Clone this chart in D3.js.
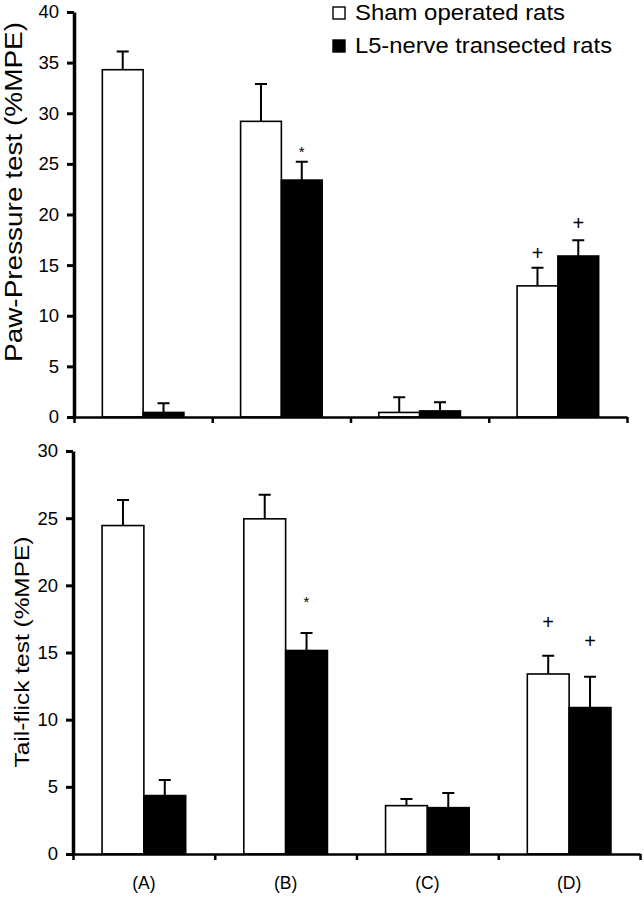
<!DOCTYPE html>
<html>
<head>
<meta charset="utf-8">
<script src="https://cdn.jsdelivr.net/npm/d3@7"></script>
<style>
  html, body { margin: 0; padding: 0; background: #fff; }
  svg { display: block; font-family: "Liberation Sans", Arial, Helvetica, sans-serif; }
</style>
</head>
<body>
<svg id="chart" width="644" height="899"></svg>
<script>
// ---------- data ----------
const groups = ["(A)", "(B)", "(C)", "(D)"];
const seriesNames = ["Sham operated rats", "L5-nerve transected rats"];

const pawSham    = [34.3, 29.2, 0.45, 12.95];
const pawShamErr = [1.8, 3.7, 1.5, 1.8];
const pawL5      = [0.45, 23.4, 0.6, 15.9];
const pawL5Err   = [0.9, 1.8, 0.85, 1.55];
const pawTicks   = [0, 5, 10, 15, 20, 25, 30, 35, 40];
// significance marks: [group index, series index, symbol, level]
const pawMarks   = [[1, 1, "*", 26.5], [3, 0, "+", 16.2], [3, 1, "+", 19.2]];

const tailSham    = [24.45, 24.95, 3.6, 13.4];
const tailShamErr = [1.9, 1.8, 0.5, 1.35];
const tailL5      = [4.35, 15.15, 3.45, 10.9];
const tailL5Err   = [1.15, 1.3, 1.1, 2.3];
const tailTicks   = [0, 5, 10, 15, 20, 25, 30];
const tailMarks   = [[1, 1, "*", 19.0], [3, 0, "+", 17.3], [3, 1, "+", 15.9]];

// ---------- drawing ----------
const svg = d3.select("#chart");

function panel(cfg) {
  const g = svg.append("g");
  const x = d3.scaleBand().domain(groups).range([cfg.x0, cfg.x1]).padding(0);
  const xs = d3.scaleBand().domain([0, 1])
      .range([x.bandwidth() * 0.205, x.bandwidth() * 0.795]).padding(0);
  const y = d3.scaleLinear().domain([0, cfg.ymax]).range([cfg.y0, cfg.y1]);

  const rows = groups.map((grp, i) => ({
    grp, i,
    vals: [
      { s: 0, v: cfg.sham[i], e: cfg.shamErr[i] },
      { s: 1, v: cfg.l5[i], e: cfg.l5Err[i] }
    ]
  }));

  const gg = g.selectAll("g.grp").data(rows).enter().append("g")
      .attr("transform", d => `translate(${x(d.grp)},0)`);

  // error bars (upward only)
  gg.selectAll("path.err").data(d => d.vals).enter().append("path")
      .attr("d", d => {
        const cx = xs(d.s) + xs.bandwidth() / 2;
        const yt = y(d.v + d.e);
        return `M${cx},${y(d.v)}V${yt}M${cx - 6},${yt}H${cx + 6}`;
      })
      .attr("stroke", "#000").attr("stroke-width", 2).attr("fill", "none");

  gg.selectAll("rect").data(d => d.vals).enter().append("rect")
      .attr("x", d => xs(d.s))
      .attr("width", xs.bandwidth())
      .attr("y", d => y(d.v))
      .attr("height", d => y(0) - y(d.v))
      .attr("fill", d => d.s === 0 ? "#fff" : "#000")
      .attr("stroke", "#000").attr("stroke-width", 1.6);

  // significance marks
  g.selectAll("text.mark").data(cfg.marks).enter().append("text")
      .attr("x", d => x(groups[d[0]]) + xs(d[1]) + xs.bandwidth() / 2)
      .attr("y", d => y(d[3]) + (d[2] === "*" ? 0.55 * 15 : 0.36 * 20))
      .attr("text-anchor", "middle")
      .attr("font-size", d => d[2] === "*" ? 15 : 20)
      .attr("fill", "#000")
      .text(d => d[2]);

  // y axis
  const ya = g.append("g").attr("transform", `translate(${cfg.x0},0)`)
      .call(d3.axisLeft(y).tickValues(cfg.ticks).tickSize(7).tickPadding(8).tickSizeOuter(0));
  ya.select(".domain").attr("stroke-width", 3.5);
  ya.selectAll(".tick line").attr("stroke-width", 3);
  ya.selectAll(".tick text").attr("font-size", 18.5).attr("fill", "#000")
      .attr("font-family", '"Liberation Sans", Arial, sans-serif');

  // x axis: boundary ticks
  const xb = d3.scaleLinear().domain([0, groups.length]).range([cfg.x0, cfg.x1]);
  const xa = g.append("g").attr("transform", `translate(0,${cfg.y0})`)
      .call(d3.axisBottom(xb).ticks(groups.length).tickFormat("").tickSize(6).tickSizeOuter(0));
  xa.select(".domain").attr("stroke-width", 2.5);
  xa.selectAll(".tick line").attr("stroke-width", 2.5);

  if (cfg.labels) {
    const xl = g.append("g").attr("transform", `translate(0,${cfg.y0})`)
        .call(d3.axisBottom(x).tickSize(0).tickPadding(0));
    xl.select(".domain").remove();
    xl.selectAll(".tick text").attr("font-size", 17.5).attr("dy", null)
        .attr("y", 35).attr("fill", "#000")
        .attr("font-family", '"Liberation Sans", Arial, sans-serif');
  }

  // y axis title
  g.append("text")
      .attr("transform", `translate(${cfg.titleX},${cfg.titleY}) rotate(-90)`)
      .attr("text-anchor", "middle")
      .attr("font-size", cfg.titleSize)
      .attr("fill", "#000")
      .attr("textLength", cfg.titleLen)
      .attr("lengthAdjust", "spacingAndGlyphs")
      .text(cfg.title);
}

panel({
  x0: 74, x1: 627, y0: 417, y1: 12, ymax: 40, ticks: pawTicks,
  sham: pawSham, shamErr: pawShamErr, l5: pawL5, l5Err: pawL5Err, marks: pawMarks,
  title: "Paw-Pressure test (%MPE)", titleX: 22, titleY: 192, titleSize: 23, titleLen: 340,
  labels: false
});

panel({
  x0: 73, x1: 640, y0: 854, y1: 451, ymax: 30, ticks: tailTicks,
  sham: tailSham, shamErr: tailShamErr, l5: tailL5, l5Err: tailL5Err, marks: tailMarks,
  title: "Tail-flick test (%MPE)", titleX: 29, titleY: 652, titleSize: 21, titleLen: 231,
  labels: true
});

// legend
const leg = svg.append("g");
const legRows = seriesNames.map((n, i) => ({ n, i }));
const legY = d3.scalePoint().domain([0, 1]).range([20, 53]);
const legLen = [210, 257];
leg.selectAll("rect").data(legRows).enter().append("rect")
    .attr("x", 333).attr("y", d => legY(d.i) - 13).attr("width", 12).attr("height", 12)
    .attr("fill", d => d.i === 0 ? "#fff" : "#000")
    .attr("stroke", "#000").attr("stroke-width", 1.4);
leg.selectAll("text").data(legRows).enter().append("text")
    .attr("x", 355).attr("y", d => legY(d.i))
    .attr("font-size", 22)
    .attr("fill", "#000")
    .attr("textLength", d => legLen[d.i])
    .attr("lengthAdjust", "spacingAndGlyphs")
    .text(d => d.n);
</script>
</body>
</html>
